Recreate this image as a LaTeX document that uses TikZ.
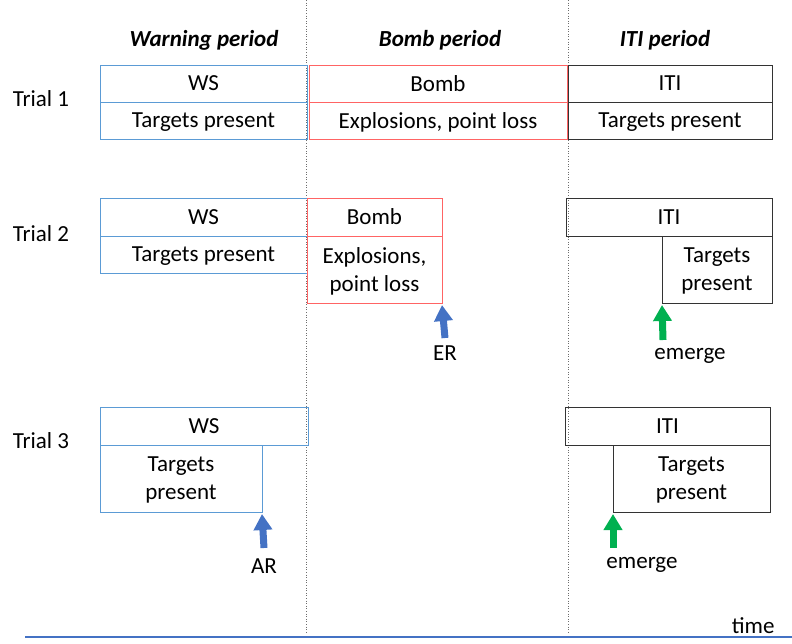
\documentclass[tikz,border=0pt]{standalone}
\usepackage{fontspec}
\setmainfont{Carlito}
\usetikzlibrary{arrows.meta}
\definecolor{wsblue}{RGB}{91,155,213}
\definecolor{bombred}{RGB}{255,100,100}
\definecolor{arrowblue}{RGB}{68,114,196}
\definecolor{emgreen}{RGB}{0,176,80}
\definecolor{divgray}{RGB}{110,110,110}
\tikzset{
  cell/.style={draw, line width=1pt, anchor=north west, inner sep=0pt, outer sep=0pt,
    align=center, text depth=0pt, font=\fontsize{23}{28}\selectfont},
  wscell/.style={cell, draw=wsblue},
  bombcell/.style={cell, draw=bombred},
  iticell/.style={cell, draw=black!80},
  header/.style={text depth=0pt, font=\fontsize{23}{28}\selectfont\bfseries\itshape},
  label/.style={text depth=0pt, font=\fontsize{23}{28}\selectfont},
  divider/.style={divgray, line width=0.6pt, dotted},
  upblue/.style={arrowblue, line width=7pt, -{Triangle[width=18pt,length=16pt]}},
  upgreen/.style={emgreen, line width=7pt, -{Triangle[width=18pt,length=16pt]}},
}
\newcommand{\cellbox}[7]{% name, style, x1, y1, x2, y2, text
  \node[#2, minimum width={(#5-#3)*1pt}, minimum height={(#6-#4)*1pt}] (#1) at (#3,#4) {#7};}
\begin{document}
\begin{tikzpicture}[x=1pt,y=-1pt]
\useasboundingbox (0,0) rectangle (792,643);

% period dividers
\coordinate (d1t) at (306,0);  \coordinate (d1b) at (306,632);
\coordinate (d2t) at (568,0);  \coordinate (d2b) at (568,632);
\draw[divider] (d1t) -- (d1b);
\draw[divider] (d2t) -- (d2b);

% headers
\node[header] (hw) at (204,38) {Warning period};
\node[header] (hb) at (440,38) {Bomb period};
\node[header] (hi) at (665,38) {ITI period};

% trial labels
\node[label] (t1) at (41,99) {Trial 1};
\node[label] (t2) at (41,234) {Trial 2};
\node[label] (t3) at (41,441) {Trial 3};

% Trial 1
\cellbox{ws1}{wscell}{100}{65}{307}{102}{WS}
\cellbox{tp1}{wscell}{100}{102}{307}{139}{Targets present}
\cellbox{bo1}{bombcell}{309}{65}{567}{102}{Bomb}
\cellbox{ex1}{bombcell}{309}{102}{567}{139}{Explosions, point loss}
\cellbox{it1}{iticell}{568}{65}{772}{102}{ITI}
\cellbox{ti1}{iticell}{568}{102}{772}{139}{Targets present}

% Trial 2
\cellbox{ws2}{wscell}{100}{198}{307}{236}{WS}
\cellbox{tp2}{wscell}{100}{236}{307}{273}{Targets present}
\cellbox{bo2}{bombcell}{307}{198}{442}{236}{Bomb}
\cellbox{ex2}{bombcell}{307}{236}{442}{303}{Explosions,\\point loss}
\cellbox{it2}{iticell}{566}{198}{772}{236}{ITI}
\cellbox{ti2}{iticell}{662}{236}{772}{303}{Targets\\present}

% Trial 3
\cellbox{ws3}{wscell}{100}{407}{308}{445}{WS}
\cellbox{tp3}{wscell}{100}{445}{262}{512}{Targets\\present}
\cellbox{it3}{iticell}{565}{407}{770}{445}{ITI}
\cellbox{ti3}{iticell}{613}{445}{770}{512}{Targets\\present}

% response markers
\node[label] (er) at (445,353) {ER};
\node[label] (em2) at (690,354) {emerge};
\node[label] (ar) at (264,566) {AR};
\node[label] (em3) at (642,563) {emerge};
\coordinate (era) at (445,338);
\coordinate (em2a) at (663,340);
\coordinate (ara) at (264,548);
\coordinate (em3a) at (613,548);
\draw[upblue] (era) -- ([yshift=-2pt]ex2.south east);
\draw[upgreen] (em2a) -- ([yshift=-2pt]ti2.south west);
\draw[upblue] (ara) -- ([yshift=-2pt]tp3.south east);
\draw[upgreen] (em3a) -- ([yshift=-2pt]ti3.south west);

% time axis
\coordinate (ax0) at (25,637);
\coordinate (ax1) at (792,637);
\draw[arrowblue, line width=1.5pt] (ax0) -- (ax1);
\node[label, anchor=east] (time) at (778,626) {time};
\end{tikzpicture}
\end{document}
